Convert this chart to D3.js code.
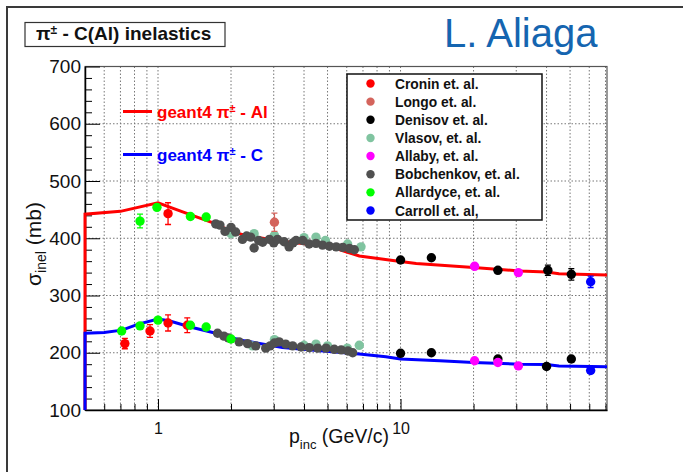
<!DOCTYPE html>
<html>
<head>
<meta charset="utf-8">
<script src="https://cdn.jsdelivr.net/npm/d3@7"></script>
<style>
body { margin: 0; background: #fff; }
svg { display: block; font-family: "Liberation Sans", Arial, Helvetica, sans-serif; }
</style>
</head>
<body>
<svg id="chart" width="683" height="472"></svg>
<script>
// geant4 curves: [p (GeV/c), sigma (mb)]
const g4Al = [[0.5,100],[0.5,442],[0.7,447],[1.0,462],[1.34,442],[1.79,423],[2.0,411],[2.5,402],[3.36,394],[5.09,386],[6.0,376],[6.76,369],[9.3,361],[11.6,356],[20,349],[31,343],[40,341],[45,338],[71,336]];
const g4C = [[0.5,100],[0.5,234],[0.6,235.5],[0.71,239.5],[0.83,250],[1.0,259],[1.11,256],[1.36,245],[1.73,234],[2.2,222],[3.26,209],[5.09,202],[6.76,198],[8.7,193],[10,189],[14.5,186],[20,183],[31,180],[40,179.6],[45,177],[71,175.6]];

// measurements: [p (GeV/c), sigma (mb), error (mb)]
const cronin = [[1.1,443,19],[0.73,216,9],[0.927,238,11],[1.1,252,14],[1.32,248,13]];
const longo = [[3.02,428,16]];
const denisov = [[10,362,4],[13.4,366,4],[25.2,344,4],[40.5,344,9],[50.6,337,10],
                 [10,199,3],[13.4,200,3],[25.2,189,3],[40,176,4],[50.6,189,4]];
const vlasov = [[2.0,408,0],[2.49,408,0],[3.02,405,0],[4.0,401,0],[4.48,402,0],[4.9,396,0],[6.05,390,0],[6.87,385,0],
                [2.45,212,0],[3.02,223,0],[4.0,213,0],[4.48,215,0],[5.0,212,0],[6.03,208,0],[6.76,213,0]];
const allaby = [[20.2,351,0],[30.6,340,0],[20.2,186,0],[25.2,183,0],[30.6,177,0]];
const bobchenkov = [[1.73,425,0],[1.8,423,0],[1.89,412,0],[2.0,419,0],[2.09,411,0],[2.23,398,0],[2.32,404,0],[2.41,402,0],
                    [2.49,383,0],[2.6,396,0],[2.7,393,0],[2.88,398,0],[3.0,392,0],[3.11,398,0],[3.31,394,0],[3.47,385,0],
                    [3.6,392,0],[3.71,396,0],[3.95,396,0],[4.2,390,0],[4.48,391,0],[4.77,388,0],[5.09,386,0],[5.43,385,0],
                    [5.78,384,0],[6.16,382,0],[6.45,380,0],
                    [1.76,234,0],[1.87,229,0],[1.95,226,0],[2.16,219,0],[2.34,216,0],[2.53,212,0],[2.78,208,0],[2.9,212,0],
                    [3.02,217,0],[3.16,219,0],[3.36,215,0],[3.59,212,0],[3.89,210,0],[4.2,209,0],[4.55,208,0],[4.93,208,0],
                    [5.33,206,0],[5.69,205,0],[6.07,203,0],[6.35,200,0]];
const allardyce = [[0.843,430,12],[0.99,454,3],[1.36,438,3],[1.58,437,3],
                   [0.708,238,3],[0.843,247,3],[1.0,257,3],[1.36,248,3],[1.58,245,3],[2.0,224,3]];
const carroll = [[60.8,324,10],[60.8,169,5]];

const seriesNames = ["Cronin et. al.", "Longo et. al.", "Denisov et. al.", "Vlasov, et. al.",
                     "Allaby, et. al.", "Bobchenkov, et. al.", "Allardyce, et. al.", "Carroll et. al,"];
const seriesData = [cronin, longo, denisov, vlasov, allaby, bobchenkov, allardyce, carroll];
const seriesColors = ["#ff0000", "#d4645c", "#000000", "#80c4a0", "#ff00ff", "#505050", "#00ff00", "#0000ff"];
const drawOrder = [3, 5, 1, 2, 4, 7, 0, 6];

const yMajor = [100, 200, 300, 400, 500, 600, 700];
const xLabels = [1, 10];

// layout
const plot = {left: 85, right: 607, top: 66.5, bottom: 410};

const svg = d3.select('#chart');

const x = d3.scaleLog().domain([0.5, 71]).range([plot.left, plot.right]);
const y = d3.scaleLinear().domain([100, 700]).range([plot.bottom, plot.top]);

// outer slide frame
svg.append('path')
    .attr('d', 'M7,472 V7 H683')
    .attr('fill', 'none')
    .attr('stroke', '#3a3a3a')
    .attr('stroke-width', 2);

// grid
const xTicks = x.ticks().filter(d => d > 0.5 && d < 71);
const yMinor = d3.range(120, 700, 20).filter(d => d % 100 !== 0);

svg.append('g').selectAll('line')
    .data(xTicks)
    .join('line')
    .attr('x1', d => x(d)).attr('x2', d => x(d))
    .attr('y1', plot.top).attr('y2', plot.bottom)
    .attr('stroke', '#777').attr('stroke-width', 1).attr('stroke-dasharray', '1.5,2');

svg.append('g').selectAll('line')
    .data(yMajor.slice(1, -1))
    .join('line')
    .attr('x1', plot.left).attr('x2', plot.right)
    .attr('y1', d => y(d)).attr('y2', d => y(d))
    .attr('stroke', '#777').attr('stroke-width', 1).attr('stroke-dasharray', '1.5,2');

// frame
svg.append('rect')
    .attr('x', plot.left).attr('y', plot.top)
    .attr('width', plot.right - plot.left).attr('height', plot.bottom - plot.top)
    .attr('fill', 'none').attr('stroke', '#555').attr('stroke-width', 1.2);

// y axis
svg.append('g')
    .attr('transform', `translate(${plot.left},0)`)
    .call(d3.axisLeft(y).tickValues(yMinor).tickSize(-7).tickSizeOuter(0).tickFormat(''))
    .call(g => g.select('.domain').remove());

const yAxis = svg.append('g')
    .attr('transform', `translate(${plot.left},0)`)
    .call(d3.axisLeft(y).tickValues(yMajor).tickSize(-15).tickSizeOuter(0).tickPadding(4));
yAxis.select('.domain').attr('stroke-width', 1.5);
yAxis.selectAll('.tick text').attr('font-size', 19).attr('fill', '#111');

// x axis
svg.append('g')
    .attr('transform', `translate(0,${plot.bottom})`)
    .call(d3.axisBottom(x).tickValues(xTicks.filter(d => !xLabels.includes(d))).tickSize(-6).tickSizeOuter(0).tickFormat(''))
    .call(g => g.select('.domain').remove());

const xAxis = svg.append('g')
    .attr('transform', `translate(0,${plot.bottom})`)
    .call(d3.axisBottom(x).tickValues(xLabels).tickSize(-11).tickSizeOuter(0).tickPadding(13).tickFormat(d3.format('d')));
xAxis.select('.domain').attr('stroke-width', 1.5);
xAxis.selectAll('.tick text').attr('font-size', 16).attr('fill', '#111');

// axis titles
const yTitle = svg.append('text')
    .attr('transform', 'translate(41,244) rotate(-90)')
    .attr('text-anchor', 'middle')
    .attr('font-size', 21)
    .attr('fill', '#111');
yTitle.append('tspan').text('σ');
yTitle.append('tspan').attr('font-size', 14).attr('dy', 5).text('inel');
yTitle.append('tspan').attr('dy', -5).text(' (mb)');

const xTitle = svg.append('text')
    .attr('x', 339).attr('y', 443)
    .attr('text-anchor', 'middle')
    .attr('font-size', 19.5)
    .attr('fill', '#111');
xTitle.append('tspan').text('p');
xTitle.append('tspan').attr('font-size', 13).attr('dy', 6).text('inc');
xTitle.append('tspan').attr('dy', -6).text(' (GeV/c)');

// geant4 curves
svg.append('clipPath').attr('id', 'clip')
    .append('rect')
    .attr('x', plot.left - 2).attr('y', plot.top)
    .attr('width', plot.right - plot.left + 2).attr('height', plot.bottom - plot.top);

const line = d3.line().x(d => x(d[0])).y(d => y(d[1]));

const curves = svg.append('g').attr('clip-path', 'url(#clip)');
curves.append('path').datum(g4Al)
    .attr('d', line).attr('fill', 'none').attr('stroke', '#ff0000').attr('stroke-width', 3);
curves.append('path').datum(g4C)
    .attr('d', line).attr('fill', 'none').attr('stroke', '#0000ff').attr('stroke-width', 3);

// measurements
drawOrder.forEach(i => {
    const color = seriesColors[i];
    const g = svg.append('g');
    const withErr = seriesData[i].filter(d => d[2] > 0);

    g.selectAll('line.err')
        .data(withErr)
        .join('line').attr('class', 'err')
        .attr('x1', d => x(d[0])).attr('x2', d => x(d[0]))
        .attr('y1', d => y(d[1] - d[2])).attr('y2', d => y(d[1] + d[2]))
        .attr('stroke', color).attr('stroke-width', 1.3);

    g.selectAll('path.cap')
        .data(withErr)
        .join('path').attr('class', 'cap')
        .attr('d', d => `M${x(d[0]) - 3},${y(d[1] - d[2])}h6M${x(d[0]) - 3},${y(d[1] + d[2])}h6`)
        .attr('stroke', color).attr('stroke-width', 1.3);

    g.selectAll('circle')
        .data(seriesData[i])
        .join('circle')
        .attr('cx', d => x(d[0])).attr('cy', d => y(d[1]))
        .attr('r', 4.7)
        .attr('fill', color);
});

// title box
svg.append('rect')
    .attr('x', 25).attr('y', 22.5).attr('width', 200).attr('height', 24)
    .attr('fill', '#fff').attr('stroke', '#333').attr('stroke-width', 1.2);
const title = svg.append('text')
    .attr('x', 36).attr('y', 40)
    .attr('font-size', 19).attr('font-weight', 'bold').attr('fill', '#111');
title.append('tspan').text('π');
title.append('tspan').attr('font-size', 12).attr('dy', -6).text('±');
title.append('tspan').attr('dy', 6).text(' - C(Al) inelastics');

// author
svg.append('text')
    .attr('x', 444).attr('y', 47)
    .attr('font-size', 40)
    .attr('fill', '#1565b0')
    .text('L. Aliaga');

// geant4 legend
const g4Legend = [
    {label: ' - Al', color: '#ff0000', y: 111.5},
    {label: ' - C', color: '#0000ff', y: 154.5}
];
g4Legend.forEach(d => {
    svg.append('line')
        .attr('x1', 123).attr('x2', 152).attr('y1', d.y).attr('y2', d.y)
        .attr('stroke', d.color).attr('stroke-width', 3);
    const t = svg.append('text')
        .attr('x', 157).attr('y', d.y + 6.5)
        .attr('font-size', 17).attr('font-weight', 'bold').attr('fill', d.color);
    t.append('tspan').text('geant4 π');
    t.append('tspan').attr('font-size', 11).attr('dy', -6).text('±');
    t.append('tspan').attr('dy', 6).text(d.label);
});

// data legend
svg.append('rect')
    .attr('x', 347).attr('y', 74).attr('width', 195).attr('height', 146)
    .attr('fill', '#fff').attr('stroke', '#111').attr('stroke-width', 1.5);

const ly = d3.scalePoint().domain(seriesNames).range([83.5, 210.5]);
const legendItems = svg.append('g').selectAll('g')
    .data(seriesNames)
    .join('g')
    .attr('transform', d => `translate(0,${ly(d)})`);
legendItems.append('circle')
    .attr('cx', 370.5).attr('r', 4.2)
    .attr('fill', (d, i) => seriesColors[i]);
legendItems.append('text')
    .attr('x', 395).attr('y', 5)
    .attr('font-size', 13.8).attr('font-weight', 'bold').attr('fill', '#111')
    .text(d => d);
</script>
</body>
</html>
